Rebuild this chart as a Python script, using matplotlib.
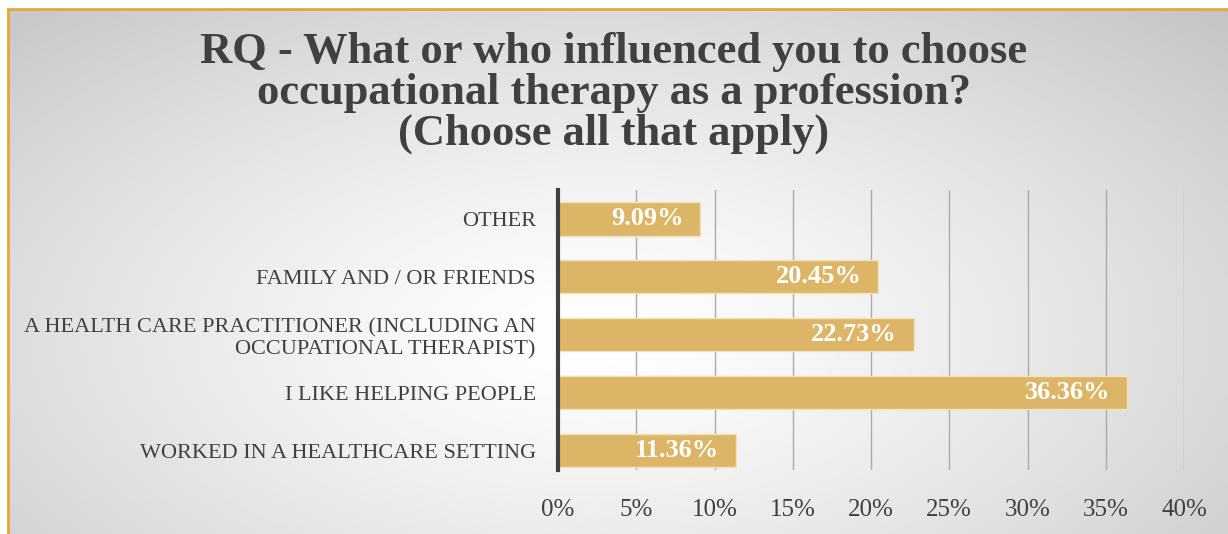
import numpy as np
import matplotlib.pyplot as plt
from matplotlib.patches import Rectangle

categories = ["OTHER", "FAMILY AND / OR FRIENDS",
              "A HEALTH CARE PRACTITIONER (INCLUDING AN\nOCCUPATIONAL THERAPIST)",
              "I LIKE HELPING PEOPLE", "WORKED IN A HEALTHCARE SETTING"]
values = [9.09, 20.45, 22.73, 36.36, 11.36]
ticks = [0, 5, 10, 15, 20, 25, 30, 35, 40]
title = "RQ - What or who influenced you to choose\noccupational therapy as a profession?\n(Choose all that apply)"

plt.rcParams['font.family'] = ['Liberation Serif', 'DejaVu Serif']

fig = plt.figure(figsize=(12.28, 5.34), dpi=100)

# radial background gradient
bg = fig.add_axes([8/1228, 0, 1 - 8/1228, 1 - 9/534], zorder=-10)
xx, yy = np.meshgrid(np.linspace(0, 1, 400), np.linspace(0, 1, 200))
r = np.sqrt(((xx - 0.48) / 0.75) ** 2 + ((yy - 0.62) / 0.9) ** 2)
shade = 1 - 0.24 * np.clip(r, 0, 1) ** 1.3
bg.imshow(shade, cmap='gray', vmin=0, vmax=1, aspect='auto', extent=[0, 1, 0, 1])
bg.set_axis_off()

# orange frame
fig.patches.append(Rectangle((8/1228, -0.1), 1.2, 1 - 9/534 + 0.1, transform=fig.transFigure,
                             fill=False, edgecolor='#E3A83A', linewidth=2, zorder=5))

ax = fig.add_axes([558/1228, 1 - 470/534, 626/1228, 280/534])
ax.patch.set_alpha(0)
y = np.arange(len(categories))
ax.barh(y, values, height=0.57, color='#DDB566', edgecolor='#F2E2BC', linewidth=1, zorder=3)
for yi, v in zip(y, values):
    ax.annotate(f"{v:.2f}%", (v, yi), xytext=(-12, 0), textcoords='offset points',
                ha='right', va='center', color='white',
                fontsize=19, fontweight='bold', zorder=4)

ax.set_xlim(0, 40)
ax.set_ylim(4.33, -0.5)
ax.set_xticks(ticks)
ax.set_xticklabels([f"{t}%" for t in ticks])
ax.set_yticks(y)
ax.set_yticklabels(categories, linespacing=1.2)
ax.grid(axis='x', color='#AAAAAA', linewidth=1, zorder=0)
for s in ['top', 'right', 'bottom']:
    ax.spines[s].set_visible(False)
ax.spines['left'].set_color('#404040')
ax.spines['left'].set_linewidth(3)
ax.spines['left'].set_zorder(5)
ax.tick_params(axis='x', length=0, pad=21, labelsize=18, labelcolor='#404040')
ax.tick_params(axis='y', length=0, pad=16, labelsize=16, labelcolor='#404040')

fig.text(0.5, 1 - 93/534, title, ha='center', va='center', fontsize=32,
         fontweight='bold', color='#404040', linespacing=1.03)

fig.savefig('out.png', dpi=100)
